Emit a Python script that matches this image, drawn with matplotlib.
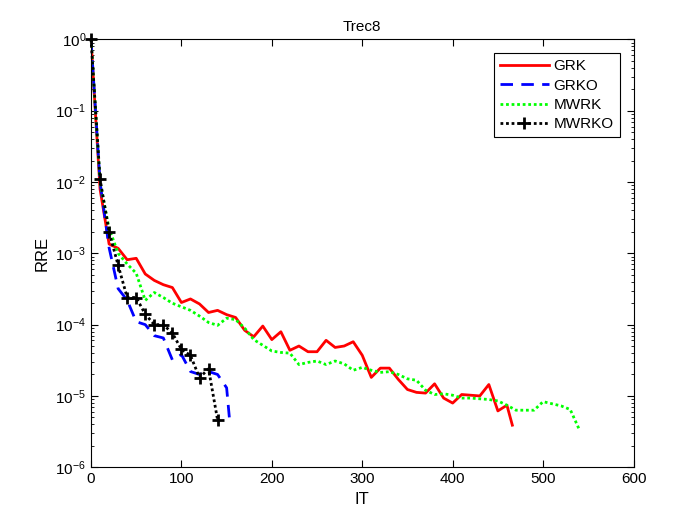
import numpy as np
import matplotlib
matplotlib.use("Agg")
import matplotlib.pyplot as plt

plt.rcParams['font.family'] = ['Liberation Sans', 'DejaVu Sans']
plt.rcParams['mathtext.default'] = 'regular'

# iteration counts and log10(RRE)
grk_it = [0, 10, 20, 30, 40, 50, 60, 70, 80, 90, 100, 110, 120, 130, 140, 150,
          160, 170, 180, 190, 200, 210, 220, 230, 240, 250, 260, 270, 280, 290,
          300, 310, 320, 330, 340, 350, 360, 370, 380, 390, 400, 410, 420, 430,
          440, 450, 460, 466]
grk_log = [0, -2.1, -2.87, -2.93, -3.09, -3.07, -3.29, -3.38, -3.44, -3.48,
           -3.69, -3.64, -3.71, -3.83, -3.80, -3.86, -3.90, -4.08, -4.17, -4.02,
           -4.21, -4.10, -4.36, -4.30, -4.38, -4.38, -4.22, -4.32, -4.30, -4.24,
           -4.43, -4.74, -4.61, -4.61, -4.77, -4.91, -4.95, -4.96, -4.83, -5.03,
           -5.10, -4.98, -4.99, -5.00, -4.84, -5.21, -5.13, -5.41]

grko_it = [0, 10, 20, 30, 40, 50, 60, 70, 80, 90, 100, 110, 120, 130, 140, 150, 153]
grko_val = [1, 1.0e-2, 1.2e-3, 3.2e-4, 2.2e-4, 1.1e-4, 1.0e-4, 7e-5, 6.5e-5,
            3.2e-5, 3.8e-5, 2.2e-5, 2.0e-5, 2.2e-5, 2.0e-5, 1.3e-5, 5e-6]

mwrk_it = list(range(0, 550, 10))
mwrk_log = [0, -2.0, -2.65, -3.0, -3.15, -3.28, -3.66, -3.55, -3.62, -3.70,
            -3.75, -3.80, -3.88, -3.97, -4.01, -3.91, -3.93, -4.05, -4.21, -4.29,
            -4.37, -4.39, -4.40, -4.56, -4.53, -4.51, -4.56, -4.51, -4.55, -4.64,
            -4.60, -4.64, -4.67, -4.66, -4.70, -4.76, -4.78, -4.92, -4.98, -4.97,
            -4.99, -5.03, -5.03, -5.04, -5.05, -5.07, -5.13, -5.20, -5.20, -5.20,
            -5.08, -5.11, -5.14, -5.19, -5.47]

mwrko_it = list(range(0, 150, 10))
mwrko_val = [1, 1.1e-2, 2.0e-3, 6.8e-4, 2.4e-4, 2.4e-4, 1.4e-4, 1.0e-4, 1.0e-4,
             7.6e-5, 4.5e-5, 3.7e-5, 1.8e-5, 2.4e-5, 4.6e-6]

fig = plt.figure(figsize=(7, 5.25), dpi=100)
ax = fig.add_axes([0.13, 0.11, 0.775, 0.815])

ax.semilogy(grk_it, 10.0 ** np.array(grk_log), color=(1, 0, 0), lw=2, label='GRK')
ax.semilogy(grko_it, grko_val, color=(0, 0, 1), lw=2, linestyle=(0, (4.5, 3)), label='GRKO')
ax.semilogy(mwrk_it, 10.0 ** np.array(mwrk_log), color=(0, 1, 0), lw=2,
            linestyle=(0, (1, 1)), label='MWRK')
ax.semilogy(mwrko_it, mwrko_val, color='k', lw=2, linestyle=(0, (1, 1)),
            marker='+', markersize=9, markeredgewidth=2, label='MWRKO',
            clip_on=False, zorder=5)

ax.set_xlim(0, 600)
ax.set_ylim(1e-6, 1)
ax.set_xticks(range(0, 601, 100))
ax.set_yticks([10.0 ** k for k in range(-6, 1)])
ax.tick_params(which='both', direction='in', top=True, right=True, labelsize=11)
ax.tick_params(which='major', length=5)
ax.tick_params(which='minor', length=2.5)
for s in ax.spines.values():
    s.set_linewidth(0.8)

ax.set_title('Trec8', fontsize=11)
ax.set_xlabel('IT', fontsize=12)
ax.set_ylabel('RRE', fontsize=12)

leg = ax.legend(loc='upper right', fontsize=11, fancybox=False, edgecolor='k',
                framealpha=1, handlelength=3.2, borderaxespad=0.9,
                labelspacing=0.35, handletextpad=0.3)
leg.get_frame().set_linewidth(0.8)

fig.savefig('out.png', dpi=100)
